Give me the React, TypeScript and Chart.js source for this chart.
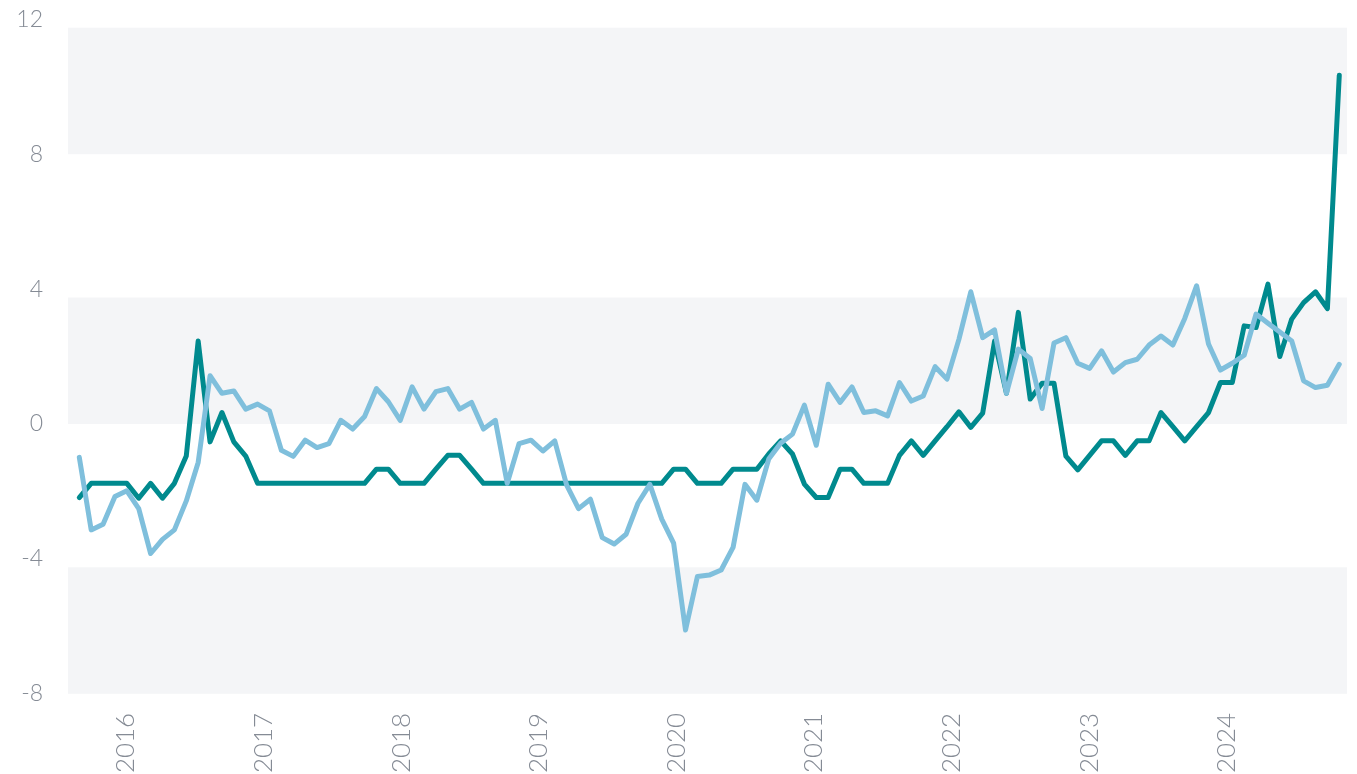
import React, { useEffect, useRef } from 'react';
import { Chart, registerables } from 'chart.js';

Chart.register(...registerables);

// Year tick labels shown on the x axis
const yearLabels = ['2016', '2017', '2018', '2019', '2020', '2021', '2022', '2023', '2024'];

// Y axis tick values
const yTickValues = [-8, -4, 0, 4, 8, 12];

// Dark teal series (107 periods)
const tealSeries = [
  -2.18, -1.76, -1.76, -1.76, -1.76, -2.2, -1.76, -2.2, -1.76, -0.95,
  2.46, -0.53, 0.34, -0.53, -0.95, -1.76, -1.76, -1.76, -1.76, -1.76,
  -1.76, -1.76, -1.76, -1.76, -1.76, -1.34, -1.34, -1.76, -1.76, -1.76,
  -1.34, -0.93, -0.93, -1.34, -1.76, -1.76, -1.76, -1.76, -1.76, -1.76,
  -1.76, -1.76, -1.76, -1.76, -1.76, -1.76, -1.76, -1.76, -1.76, -1.76,
  -1.34, -1.34, -1.76, -1.76, -1.76, -1.34, -1.34, -1.34, -0.89, -0.5,
  -0.89, -1.78, -2.18, -2.18, -1.34, -1.34, -1.76, -1.76, -1.76, -0.93,
  -0.5, -0.93, -0.5, -0.08, 0.36, -0.1, 0.32, 2.46, 0.91, 3.31,
  0.74, 1.21, 1.21, -0.95, -1.36, -0.93, -0.5, -0.5, -0.93, -0.5,
  -0.5, 0.34, -0.08, -0.5, -0.08, 0.34, 1.23, 1.23, 2.91, 2.86,
  4.15, 2.0, 3.11, 3.6, 3.92, 3.42, 10.34,
];

// Light blue series (107 periods)
const lightSeries = [
  -0.99, -3.14, -2.97, -2.15, -1.98, -2.51, -3.84, -3.42, -3.14, -2.28,
  -1.14, 1.43, 0.91, 0.98, 0.44, 0.59, 0.39, -0.78, -0.96, -0.48,
  -0.7, -0.58, 0.11, -0.15, 0.22, 1.05, 0.66, 0.11, 1.1, 0.44,
  0.96, 1.05, 0.44, 0.64, -0.15, 0.11, -1.76, -0.58, -0.48, -0.8,
  -0.5, -1.81, -2.51, -2.23, -3.37, -3.56, -3.27, -2.35, -1.79, -2.82,
  -3.53, -6.11, -4.52, -4.48, -4.33, -3.66, -1.79, -2.26, -1.04, -0.57,
  -0.3, 0.56, -0.63, 1.18, 0.64, 1.1, 0.34, 0.39, 0.24, 1.23,
  0.68, 0.83, 1.7, 1.33, 2.51, 3.92, 2.56, 2.79, 0.91, 2.22,
  1.94, 0.46, 2.4, 2.56, 1.8, 1.65, 2.17, 1.54, 1.82, 1.92,
  2.34, 2.61, 2.34, 3.13, 4.1, 2.37, 1.6, 1.8, 2.04, 3.26,
  2.99, 2.73, 2.46, 1.28, 1.08, 1.15, 1.77,
];

// Shaded horizontal bands, in value units [low, high]
const bandRanges: [number, number][] = [
  [-8, -4.25],
  [0, 3.75],
  [8, 11.75],
];

const TEXT_COLOR = '#858b95';
const BAND_COLOR = '#f4f5f7';
const TEAL = '#008a8e';
const LIGHT = '#7fbfdc';

const bandPlugin = {
  id: 'bands',
  beforeDatasetsDraw(chart: any) {
    const { ctx, chartArea, scales } = chart;
    const y = scales.y;
    ctx.save();
    ctx.fillStyle = BAND_COLOR;
    for (const [lo, hi] of bandRanges) {
      const top = y.getPixelForValue(hi);
      const bot = y.getPixelForValue(lo);
      ctx.fillRect(chartArea.left, top, chartArea.right - chartArea.left, bot - top);
    }
    ctx.restore();
  },
};

export default function App() {
  const ref = useRef<HTMLCanvasElement | null>(null);

  useEffect(() => {
    if (!ref.current) return;
    const family = 'Lato, "Open Sans", sans-serif';
    const chart = new Chart(ref.current, {
      type: 'line',
      data: {
        datasets: [
          {
            label: 'light',
            data: lightSeries.map((v, i) => ({ x: i, y: v })),
            borderColor: LIGHT,
            borderWidth: 5,
            pointRadius: 0,
            tension: 0,
            fill: false,
            borderJoinStyle: 'round',
            borderCapStyle: 'round',
          },
          {
            label: 'teal',
            data: tealSeries.map((v, i) => ({ x: i, y: v })),
            borderColor: TEAL,
            borderWidth: 5,
            pointRadius: 0,
            tension: 0,
            fill: false,
            borderJoinStyle: 'round',
            borderCapStyle: 'round',
          },
        ],
      },
      options: {
        animation: false,
        responsive: false,
        layout: { padding: { top: 19.3, right: 10, left: 0, bottom: 0 } },
        plugins: {
          legend: { display: false },
          tooltip: { enabled: false },
        },
        scales: {
          x: {
            type: 'linear',
            display: false,
            min: -0.951,
            max: 106.65,
          },
          xYear: {
            type: 'linear',
            position: 'bottom',
            min: 2015.5785,
            max: 2024.8735,
            grid: { display: false, drawTicks: false },
            border: { display: false },
            afterBuildTicks: (s: any) => {
              s.ticks = yearLabels.map((l) => ({ value: Number(l) }));
            },
            afterFit: (s: any) => {
              s.height = 80.2;
              s.paddingLeft = 0;
              s.paddingRight = 0;
            },
            ticks: {
              autoSkip: false,
              minRotation: 90,
              maxRotation: 90,
              padding: 19,
              color: TEXT_COLOR,
              font: { family, size: 26, weight: '300' },
              callback: (v: any) => String(v),
            },
          },
          y: {
            type: 'linear',
            min: -8,
            max: 12,
            afterBuildTicks: (s: any) => {
              s.ticks = yTickValues.map((v) => ({ value: v }));
            },
            afterFit: (s: any) => {
              s.width = 68;
              s.paddingTop = 0;
              s.paddingBottom = 0;
            },
            grid: { display: false, drawTicks: false },
            border: { display: false },
            ticks: {
              padding: 25,
              color: TEXT_COLOR,
              font: { family, size: 23, weight: '300' },
              callback: (v: any) => String(v),
            },
          },
        },
      } as any,
      plugins: [bandPlugin],
    });
    return () => chart.destroy();
  }, []);

  return (
    <div style={{ position: 'fixed', left: 0, top: 0, width: 1357, height: 774, background: '#fff' }}>
      <canvas ref={ref} width={1357} height={774} style={{ display: 'block' }} />
    </div>
  );
}
